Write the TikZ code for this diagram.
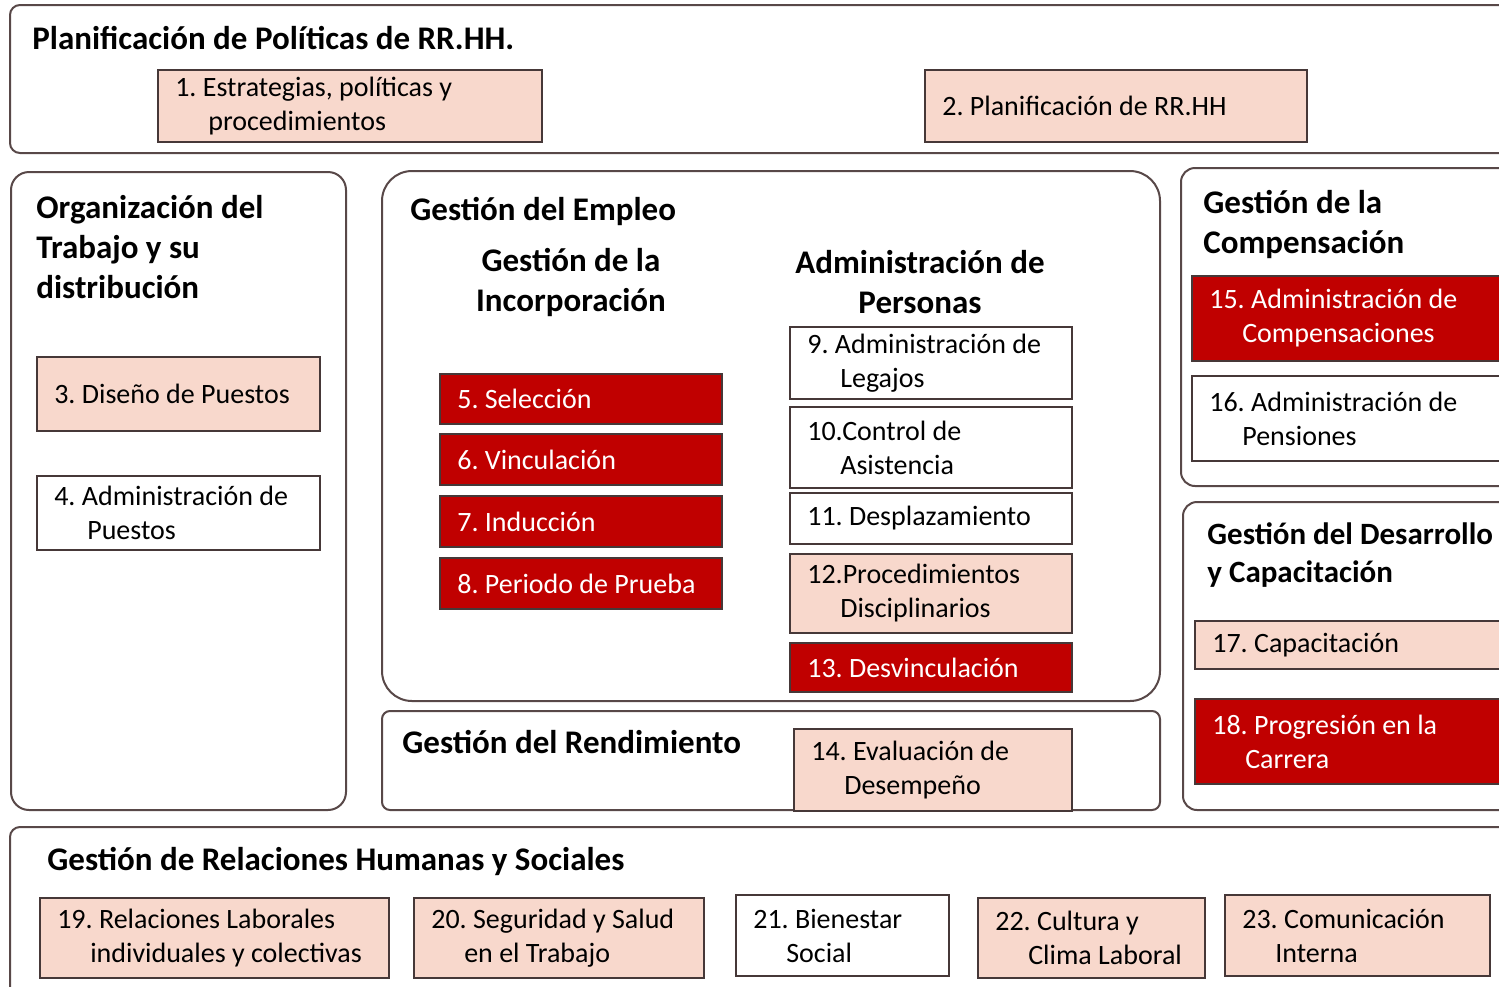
\documentclass[tikz,border=0pt]{standalone}
\usepackage{fontspec}
\setmainfont{Carlito}
\definecolor{pinkf}{RGB}{248,216,204}
\definecolor{redf}{RGB}{192,0,0}
\definecolor{bdr}{RGB}{70,56,56}
\definecolor{gbdr}{RGB}{88,72,72}
\tikzset{
 box/.style={draw=bdr, line width=1.1pt, rectangle, inner sep=0pt},
 boxtext/.style={anchor=west, inner sep=0pt, align=left, font=\fontsize{14}{17}\selectfont\frenchspacing},
 pinkbox/.style={fill=pinkf},
 redbox/.style={fill=redf},
 whitebox/.style={fill=white},
 group/.style={draw=gbdr, line width=1pt},
 head/.style={font=\bfseries\fontsize{16.5}{20}\selectfont\frenchspacing, inner sep=0pt},
}
\newcommand\mybox[8]{%
 \pgfmathsetmacro\myboxw{(#4-#2)*0.5}%
 \pgfmathsetmacro\myboxh{(#5-#3)*0.5}%
 \node[box,#6,minimum width=\myboxw pt,minimum height=\myboxh pt] (#1) at ({(#2+#4)/2},{(#3+#5)/2+1}) {};
 \node[boxtext,#7] (#1t) at ([xshift=9pt]#1.west) {#8};}
\newcommand\ind{\hspace*{16.5pt}}
\begin{document}
\begin{tikzpicture}[x=0.5pt,y=-0.5pt]
\useasboundingbox (0,0) rectangle (1499,986);
\clip (0,0) rectangle (1499,986);
\fill[white] (0,0) rectangle (1499,986);
% containers
\draw[group, rounded corners=5pt] (10,5) rectangle (1530,153);
\draw[group, rounded corners=9pt] (11,172) rectangle (346,810);
\draw[group, rounded corners=15pt] (382,171) rectangle (1160,701);
\draw[group, rounded corners=4pt] (382,711) rectangle (1160,810);
\draw[group, rounded corners=7pt] (1181,168) rectangle (1530,486);
\draw[group, rounded corners=7pt] (1183,502) rectangle (1530,810);
\draw[group, rounded corners=5pt] (10,827) rectangle (1530,1010);
% headings
\node[head, anchor=west] (hplan) at (32,38) {Planificación de Políticas de RR.HH.};
\node[head, anchor=west, align=left] (horg) at (36,247) {Organización del\\Trabajo y su\\distribución};
\node[head, anchor=west] (hemp) at (410,211) {Gestión del Empleo};
\node[head, align=center] (hinc) at (571,282) {Gestión de la\\Incorporación};
\node[head, align=center] (hadm) at (920,282) {Administración de\\Personas};
\node[head, anchor=west] (hrend) at (402,742) {Gestión del Rendimiento};
\node[head, anchor=west, align=left] (hcomp) at (1203,224) {Gestión de la\\Compensación};
\node[head, anchor=west, align=left, font=\bfseries\fontsize{15.5}{19}\selectfont\frenchspacing] (hdes) at (1207,555) {Gestión del Desarrollo\\y Capacitación};
\node[head, anchor=west] (hrel) at (47,861) {Gestión de Relaciones Humanas y Sociales};
% boxes
\mybox{b1}{158}{69}{542}{141}{pinkbox}{}{1. Estrategias, políticas y\\\ind procedimientos}
\mybox{b2}{925}{69}{1307}{141}{pinkbox}{}{2. Planificación de RR.HH}
\mybox{b3}{37}{356}{320}{430}{pinkbox}{}{3. Diseño de Puestos}
\mybox{b4}{37}{475}{320}{549}{whitebox}{}{4. Administración de\\\ind Puestos}
\mybox{b5}{440}{373}{722}{423}{redbox}{white}{5. Selección}
\mybox{b6}{440}{433}{722}{484}{redbox}{white}{6. Vinculación}
\mybox{b7}{440}{495}{722}{546}{redbox}{white}{7. Inducción}
\mybox{b8}{440}{557}{722}{608}{redbox}{white}{8. Periodo de Prueba}
\mybox{b9}{790}{326}{1072}{398}{whitebox}{}{9. Administración de\\\ind Legajos}
\mybox{b10}{790}{406}{1072}{487}{whitebox}{}{10.Control de\\\ind Asistencia}
\mybox{b11}{790}{492}{1072}{543}{whitebox}{}{11. Desplazamiento}
\mybox{b12}{790}{553}{1072}{632}{pinkbox}{}{12.Procedimientos\\\ind Disciplinarios}
\mybox{b13}{790}{642}{1072}{691}{redbox}{white}{13. Desvinculación}
\mybox{b14}{794}{728}{1072}{810}{pinkbox}{}{14. Evaluación de\\\ind Desempeño}
\mybox{b15}{1192}{275}{1530}{360}{redbox}{white}{15. Administración de\\\ind Compensaciones}
\mybox{b16}{1192}{375}{1530}{460}{whitebox}{}{16. Administración de\\\ind Pensiones}
\mybox{b17}{1195}{620}{1530}{668}{pinkbox}{}{17. Capacitación}
\mybox{b18}{1195}{698}{1530}{783}{redbox}{white}{18. Progresión en la\\\ind Carrera}
\mybox{b19}{40}{897}{389}{977}{pinkbox}{}{19. Relaciones Laborales\\\ind individuales y colectivas}
\mybox{b20}{414}{897}{704}{977}{pinkbox}{}{20. Seguridad y Salud\\\ind en el Trabajo}
\mybox{b21}{736}{894}{949}{975}{whitebox}{}{21. Bienestar\\\ind Social}
\mybox{b22}{978}{897}{1205}{977}{pinkbox}{}{22. Cultura y\\\ind Clima Laboral}
\mybox{b23}{1225}{894}{1490}{975}{pinkbox}{}{23. Comunicación\\\ind Interna}
\end{tikzpicture}
\end{document}
